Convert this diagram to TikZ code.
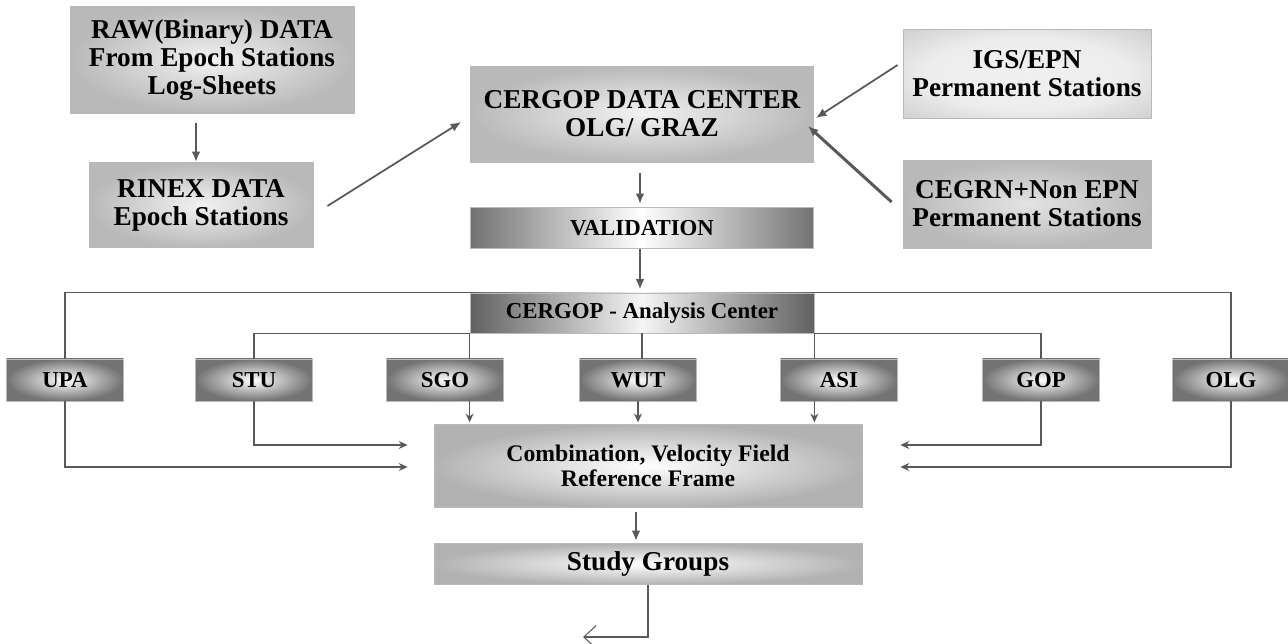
\documentclass[tikz,border=0pt]{standalone}
\usepackage{fontspec}
\setmainfont{Liberation Serif}
\usetikzlibrary{arrows.meta,calc}

\pgfdeclareradialshading{ringshade}{\pgfpoint{0bp}{0bp}}{color(0bp)=(gray!12); color(20bp)=(gray!14); color(36bp)=(gray!38); color(50bp)=(gray!6); color(100bp)=(gray!6)}

\begin{document}
\begin{tikzpicture}[x=0.02cm,y=-0.02cm,>={Latex[length=6pt,width=5pt]},
  box/.style={draw=gray!55,line width=.5pt,align=center,inner sep=0pt,
    font=\bfseries\fontsize{15.5}{16}\selectfont},
  softbox/.style={box,shading=radial,inner color=gray!10,outer color=gray!55},
  barbox/.style={box,left color=black!55,right color=black!55,middle color=white,
    font=\bfseries\fontsize{13}{15}\selectfont},
  stn/.style={box,shading=radial,inner color=white,outer color=black!55,
    minimum width=2.34cm,minimum height=0.84cm,font=\bfseries\fontsize{13}{14}\selectfont},
  flow/.style={->,draw=black!65,line width=1.2pt},
  link/.style={draw=black!65,line width=.6pt},
  feed/.style={link,-{Stealth[length=5pt,width=4.5pt]}}]
\useasboundingbox (0,0) rectangle (1288,644);

\node[softbox,minimum width=5.68cm,minimum height=2.14cm] (raw) at (212,60)
  {RAW(Binary) DATA\\From Epoch Stations\\Log-Sheets};
\node[softbox,minimum width=4.48cm,minimum height=1.70cm] (rinex) at (201,205)
  {RINEX DATA\\Epoch Stations};
\node[softbox,minimum width=6.86cm,minimum height=1.92cm] (dc) at (642,114)
  {CERGOP DATA CENTER\\OLG/ GRAZ};
\node[box,shading=ringshade,minimum width=4.96cm,minimum height=1.78cm] (igs) at (1027,74)
  {IGS/EPN\\Permanent Stations};
\node[box,shading=radial,inner color=gray!22,outer color=gray!55,
  minimum width=4.96cm,minimum height=1.76cm] (cegrn) at (1027,204)
  {CEGRN+Non EPN\\Permanent Stations};
\node[barbox,minimum width=6.86cm,minimum height=0.82cm] (val) at (642,228) {VALIDATION};
\node[barbox,left color=black!62,right color=black!62,middle color=gray!8,
  minimum width=6.88cm,minimum height=0.80cm] (ac) at (642,313) {CERGOP - Analysis Center};

\node[stn] (upa) at (65,380) {UPA};
\node[stn] (stu) at (254,380) {STU};
\node[stn] (sgo) at (445,380) {SGO};
\node[stn] (wut) at (638,380) {WUT};
\node[stn] (asi) at (839,380) {ASI};
\node[stn] (gop) at (1041,380) {GOP};
\node[stn] (olg) at (1231,380) {OLG};

\node[softbox,inner color=white,outer color=gray!60,minimum width=8.56cm,
  minimum height=1.66cm,font=\bfseries\fontsize{13.5}{14.5}\selectfont] (comb) at (648,466)
  {Combination, Velocity Field\\Reference Frame};
\node[softbox,inner color=white,outer color=gray!60,minimum width=8.56cm,
  minimum height=0.82cm] (study) at (648,564) {Study Groups};
\coordinate (out) at (583,637);

\draw[flow,shorten <=5pt] ([xshift=-0.1cm]rinex.north |- raw.south) -- ([xshift=-0.1cm]rinex.north);
\draw[flow,line width=1pt] ($(rinex.east)+(14,1)$) -- ($(dc.west)+(-9,8)$);
\draw[flow,line width=1pt] ($(igs.west)+(-5,-9)$) -- ($(dc.east)+(2,4)$);
\draw[flow,line width=1.7pt] ($(cegrn.west)+(-11,-2)$) -- ($(dc.east)+(-6,12)$);
\draw[flow,shorten <=0.22cm,shorten >=0.06cm] ([xshift=-0.04cm]dc.south) -- ([xshift=-0.04cm]val.north);
\draw[flow,shorten >=0.06cm] ([xshift=-0.04cm]val.south) -- ([xshift=-0.04cm]ac.north);

\draw[link] (ac.north west) -| (upa.north);
\draw[link] (ac.north east) -| (olg.north);
\draw[link] (ac.south west) -| (stu.north);
\draw[link] (ac.south west) -- (ac.south west |- sgo.north);
\draw[link] (ac.south) -- (ac.south |- wut.north);
\draw[link] (ac.south east) -- (ac.south east |- asi.north);
\draw[link] (ac.south east) -| (gop.north);

\draw[feed,shorten >=1pt] (sgo.south -| ac.west) -- (comb.north -| ac.west);
\draw[feed,shorten >=1pt] (wut.south) -- (wut.south |- comb.north);
\draw[feed,shorten >=1pt] (asi.south -| ac.east) -- (comb.north -| ac.east);
\draw[feed] (stu.south) |- ($(comb.west)+(-26,-21)$);
\draw[feed] (upa.south) |- ($(comb.west)+(-26,1)$);
\draw[feed] (gop.south) |- ($(comb.east)+(38,-21)$);
\draw[feed] (olg.south) |- ($(comb.east)+(38,1)$);

\draw[flow,shorten <=0.08cm,shorten >=0.04cm] ([xshift=-0.24cm]comb.south) -- ([xshift=-0.24cm]study.north);
\draw[link,-{Straight Barb[length=7pt,width=13pt]}] (study.south) |- (out);
\end{tikzpicture}
\end{document}
